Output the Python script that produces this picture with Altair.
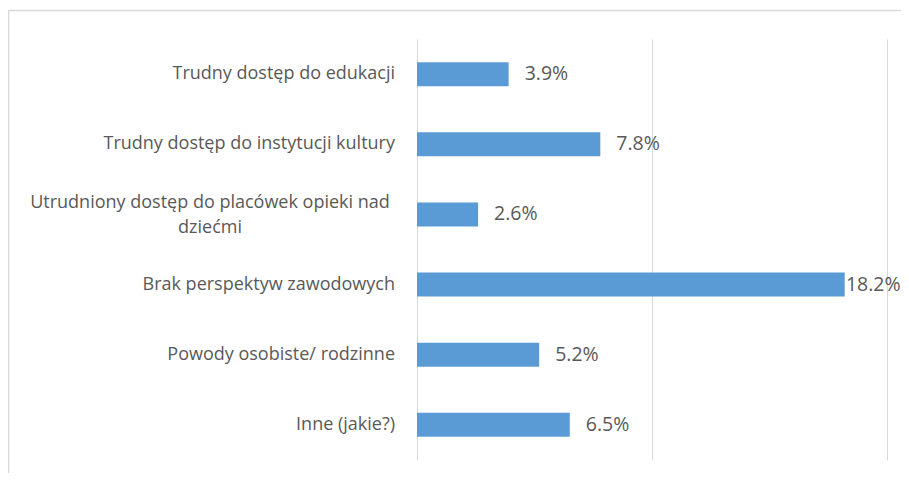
import altair as alt
import pandas as pd

categories = [
    "Trudny dostęp do edukacji",
    "Trudny dostęp do instytucji kultury",
    "Utrudniony dostęp do placówek opieki nad dziećmi",
    "Brak perspektyw zawodowych",
    "Powody osobiste/ rodzinne",
    "Inne (jakie?)",
]
label_lines = [
    ["Trudny dostęp do edukacji"],
    ["Trudny dostęp do instytucji kultury"],
    ["Utrudniony dostęp do placówek opieki nad", "dziećmi"],
    ["Brak perspektyw zawodowych"],
    ["Powody osobiste/ rodzinne"],
    ["Inne (jakie?)"],
]
values = [3.9, 7.8, 2.6, 18.2, 5.2, 6.5]
x_ticks = [0, 10, 20]

df = pd.DataFrame({
    "cat": categories,
    "lines": label_lines,
    "value": values,
    "nlines": [len(l) for l in label_lines],
})

FONT = "Open Sans"
GRAY = "#595959"
GRID = "#d9d9d9"

y_enc = alt.Y("cat:N", sort=categories, axis=None,
              scale=alt.Scale(paddingInner=0.657, paddingOuter=0.33))

base = alt.Chart(df)

bars = base.mark_bar(color="#5B9BD5", size=24).encode(
    x=alt.X("value:Q",
            scale=alt.Scale(domain=[0, 20], nice=False),
            axis=alt.Axis(values=x_ticks, grid=True, gridColor=GRID, gridWidth=1,
                          labels=False, ticks=False, domain=False, title=None)),
    y=y_enc,
)

vals = base.transform_calculate(
    lx="datum.value + (datum.value > 15 ? 0.05 : 0.68)",
    txt="format(datum.value, '.1f') + '%'",
).mark_text(align="left", baseline="middle", font=FONT, fontSize=19.5, color=GRAY).encode(
    x=alt.X("lx:Q"),
    y=y_enc,
    text="txt:N",
)

cat_single = base.transform_filter("datum.nlines == 1").mark_text(
    align="right", baseline="middle", font=FONT, fontSize=18, color=GRAY
).encode(
    x=alt.value(-22),
    y=y_enc,
    text="lines",
)

cat_multi = base.transform_filter("datum.nlines > 1").mark_text(
    align="center", baseline="middle", font=FONT, fontSize=18, color=GRAY,
    lineHeight=25, dy=-11
).encode(
    x=alt.value(-207),
    y=y_enc,
    text="lines",
)

one = pd.DataFrame({"a": [0]})
frame_top = alt.Chart(one).mark_rule(color=GRID, strokeWidth=1.5).encode(
    x=alt.value(-409), x2=alt.value(490), y=alt.value(-28.5)
)
frame_left = alt.Chart(one).mark_rule(color=GRID, strokeWidth=1.5).encode(
    x=alt.value(-408.5), y=alt.value(-29), y2=alt.value(490)
)

chart = alt.layer(frame_top, frame_left, bars, vals, cat_single, cat_multi).properties(
    width=470,
    height=421,
    padding={"left": 409, "top": 31, "right": 14, "bottom": 13},
    autosize=alt.AutoSizeParams(type="none"),
    background="white",
).configure_view(strokeWidth=0, stroke="transparent")

chart.save("out.html", embed_options={"renderer": "svg", "actions": False})
